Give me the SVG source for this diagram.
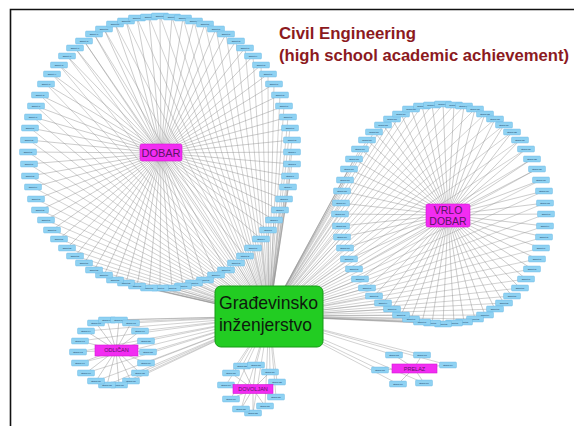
<svg xmlns="http://www.w3.org/2000/svg" width="574" height="426" viewBox="0 0 574 426">
<style>
.e{fill:none;stroke:#8e8e8e;stroke-width:.45}
.h{fill:none;stroke:#8e8e8e;stroke-width:.4}
.s text{font-family:"Liberation Sans",Arial,sans-serif;font-size:1.8px;fill:#102a50;text-anchor:middle;dominant-baseline:central}
.m rect{fill:#f22cf2;stroke:#d41ad4;stroke-width:.6}
.m text{font-family:"Liberation Sans",Arial,sans-serif;fill:#5a1464;text-anchor:middle}
.t{font-family:"Liberation Sans",Arial,sans-serif;font-weight:bold;font-size:16px;fill:#8c1a1e}
.g{font-family:"Liberation Sans",Arial,sans-serif;font-size:19px;fill:#0d1a0d}
</style>
<defs>
<rect id="b" x="-8.5" y="-3" width="17" height="6" rx="1" fill="#8fd2f2" stroke="#5fb3e3" stroke-width=".4"/>
</defs>
<rect x="0" y="0" width="574" height="426" fill="#fff"/>
<path d="M10.5 426V9.5H574" fill="none" stroke="#111" stroke-width="1.6"/>
<g id="connectors">
<path class="e" d="M161 153L292 152M161 153L292 164M161 153L290 176M161 153L288 187M161 153L284 199M161 153L280 210M161 153L274 220M161 153L268 230M161 153L261 239M161 153L253 248M161 153L245 256M161 153L236 263M161 153L226 270M161 153L216 275M161 153L205 280M161 153L194 283M161 153L183 286M161 153L172 288M161 153L160 288M161 153L149 288M161 153L137 286M161 153L126 283M161 153L115 280M161 153L104 275M161 153L94 270M161 153L84 263M161 153L75 256M161 153L67 248M161 153L59 239M161 153L52 230M161 153L46 220M161 153L40 210M161 153L36 199M161 153L33 187M161 153L30 176M161 153L29 164M161 153L28 152M161 153L29 140M161 153L30 128M161 153L33 117M161 153L36 106M161 153L40 95M161 153L46 84M161 153L52 74M161 153L59 65M161 153L67 56M161 153L75 48M161 153L84 41M161 153L94 34M161 153L104 29M161 153L115 24M161 153L126 21M161 153L137 18M161 153L149 17M161 153L160 16M161 153L172 17M161 153L183 18M161 153L194 21M161 153L205 24M161 153L216 29M161 153L226 34M161 153L236 41M161 153L245 48M161 153L253 56M161 153L261 65M161 153L268 74M161 153L274 84M161 153L280 95M161 153L284 106M161 153L288 117M161 153L290 128M161 153L292 140"/>
<path class="e" d="M448 215L546 214M448 215L545 226M448 215L544 237M448 215L541 248M448 215L537 259M448 215L532 269M448 215L526 279M448 215L520 288M448 215L512 296M448 215L504 303M448 215L495 309M448 215L485 315M448 215L475 319M448 215L464 322M448 215L454 323M448 215L443 324M448 215L432 323M448 215L422 322M448 215L411 319M448 215L401 315M448 215L392 309M448 215L383 303M448 215L374 296M448 215L367 288M448 215L360 279M448 215L354 269M448 215L349 259M448 215L345 248M448 215L342 237M448 215L341 226M448 215L340 214M448 215L341 203M448 215L342 191M448 215L345 180M448 215L349 169M448 215L354 159M448 215L360 149M448 215L367 140M448 215L374 132M448 215L383 125M448 215L392 119M448 215L401 114M448 215L411 109M448 215L422 106M448 215L432 105M448 215L443 104M448 215L454 105M448 215L464 106M448 215L475 109M448 215L485 114M448 215L495 119M448 215L504 125M448 215L512 132M448 215L520 140M448 215L526 149M448 215L532 159M448 215L537 169M448 215L541 180M448 215L544 191M448 215L545 203"/>
<path class="e" d="M116 350L148 352M116 350L146 363M116 350L140 373M116 350L131 381M116 350L119 385M116 350L107 385M116 350L96 381M116 350L86 373M116 350L80 363M116 350L78 352M116 350L80 341M116 350L86 331M116 350L96 323M116 350L107 320M116 350L119 320M116 350L131 323M116 350L140 331M116 350L146 341"/>
<path class="e" d="M253 389L231 373M253 389L242 366M253 389L256 365M253 389L270 372M253 389L277 382M253 389L276 397M253 389L265 406M253 389L253 413M253 389L241 409M253 389L231 399M253 389L226 385"/>
<path class="e" d="M414 368L394 355M414 368L422 355M414 368L448 365M414 368L380 370M414 368L398 384M414 368L424 383"/>
<path class="h" d="M269 316L292 152M269 316L292 164M269 316L290 176M269 316L288 187M269 316L284 199M269 316L280 210M269 316L274 220M269 316L268 230M269 316L261 239M269 316L253 248M269 316L245 256M269 316L236 263M269 316L226 270M269 316L216 275M269 316L205 280M269 316L194 283M269 316L183 286M269 316L172 288M269 316L160 288M269 316L149 288M269 316L137 286M269 316L126 283M269 316L115 280M269 316L104 275M269 316L94 270M269 316L84 263M269 316L75 256M269 316L67 248M269 316L59 239M269 316L52 230M269 316L46 220M269 316L40 210M269 316L36 199M269 316L33 187M269 316L30 176M269 316L29 164M269 316L28 152M269 316L29 140M269 316L30 128M269 316L33 117M269 316L36 106M269 316L40 95M269 316L46 84M269 316L52 74M269 316L59 65M269 316L67 56M269 316L75 48M269 316L84 41M269 316L94 34M269 316L104 29M269 316L115 24M269 316L126 21M269 316L137 18M269 316L149 17M269 316L160 16M269 316L172 17M269 316L183 18M269 316L194 21M269 316L205 24M269 316L216 29M269 316L226 34M269 316L236 41M269 316L245 48M269 316L253 56M269 316L261 65M269 316L268 74M269 316L274 84M269 316L280 95M269 316L284 106M269 316L288 117M269 316L290 128M269 316L292 140"/>
<path class="h" d="M269 316L546 214M269 316L545 226M269 316L544 237M269 316L541 248M269 316L537 259M269 316L532 269M269 316L526 279M269 316L520 288M269 316L512 296M269 316L504 303M269 316L495 309M269 316L485 315M269 316L475 319M269 316L464 322M269 316L454 323M269 316L443 324M269 316L432 323M269 316L422 322M269 316L411 319M269 316L401 315M269 316L392 309M269 316L383 303M269 316L374 296M269 316L367 288M269 316L360 279M269 316L354 269M269 316L349 259M269 316L345 248M269 316L342 237M269 316L341 226M269 316L340 214M269 316L341 203M269 316L342 191M269 316L345 180M269 316L349 169M269 316L354 159M269 316L360 149M269 316L367 140M269 316L374 132M269 316L383 125M269 316L392 119M269 316L401 114M269 316L411 109M269 316L422 106M269 316L432 105M269 316L443 104M269 316L454 105M269 316L464 106M269 316L475 109M269 316L485 114M269 316L495 119M269 316L504 125M269 316L512 132M269 316L520 140M269 316L526 149M269 316L532 159M269 316L537 169M269 316L541 180M269 316L544 191M269 316L545 203"/>
<path class="h" d="M269 316L148 352M269 316L146 363M269 316L140 373M269 316L131 381M269 316L119 385M269 316L107 385M269 316L96 381M269 316L86 373M269 316L80 363M269 316L78 352M269 316L80 341M269 316L86 331M269 316L96 323M269 316L107 320M269 316L119 320M269 316L131 323M269 316L140 331M269 316L146 341M269 316L231 373M269 316L242 366M269 316L256 365M269 316L270 372M269 316L277 382M269 316L276 397M269 316L265 406M269 316L253 413M269 316L241 409M269 316L231 399M269 316L226 385M269 316L394 355M269 316L422 355M269 316L448 365M269 316L380 370M269 316L398 384M269 316L424 383"/>
</g>
<g class="s">
<g id="n1"><use href="#b" x="292" y="152"/><text x="292" y="152">Student 1</text></g>
<g id="n2"><use href="#b" x="292" y="164"/><text x="292" y="164">Student 2</text></g>
<g id="n3"><use href="#b" x="290" y="176"/><text x="290" y="176">Student 3</text></g>
<g id="n4"><use href="#b" x="288" y="187"/><text x="288" y="187">Student 4</text></g>
<g id="n5"><use href="#b" x="284" y="199"/><text x="284" y="199">Student 5</text></g>
<g id="n6"><use href="#b" x="280" y="210"/><text x="280" y="210">Student 6</text></g>
<g id="n7"><use href="#b" x="274" y="220"/><text x="274" y="220">Student 7</text></g>
<g id="n8"><use href="#b" x="268" y="230"/><text x="268" y="230">Student 8</text></g>
<g id="n9"><use href="#b" x="261" y="239"/><text x="261" y="239">Student 9</text></g>
<g id="n10"><use href="#b" x="253" y="248"/><text x="253" y="248">Student 10</text></g>
<g id="n11"><use href="#b" x="245" y="256"/><text x="245" y="256">Student 11</text></g>
<g id="n12"><use href="#b" x="236" y="263"/><text x="236" y="263">Student 12</text></g>
<g id="n13"><use href="#b" x="226" y="270"/><text x="226" y="270">Student 13</text></g>
<g id="n14"><use href="#b" x="216" y="275"/><text x="216" y="275">Student 14</text></g>
<g id="n15"><use href="#b" x="205" y="280"/><text x="205" y="280">Student 15</text></g>
<g id="n16"><use href="#b" x="194" y="283"/><text x="194" y="283">Student 16</text></g>
<g id="n17"><use href="#b" x="183" y="286"/><text x="183" y="286">Student 17</text></g>
<g id="n18"><use href="#b" x="172" y="288"/><text x="172" y="288">Student 18</text></g>
<g id="n19"><use href="#b" x="160" y="288"/><text x="160" y="288">Student 19</text></g>
<g id="n20"><use href="#b" x="149" y="288"/><text x="149" y="288">Student 20</text></g>
<g id="n21"><use href="#b" x="137" y="286"/><text x="137" y="286">Student 21</text></g>
<g id="n22"><use href="#b" x="126" y="283"/><text x="126" y="283">Student 22</text></g>
<g id="n23"><use href="#b" x="115" y="280"/><text x="115" y="280">Student 23</text></g>
<g id="n24"><use href="#b" x="104" y="275"/><text x="104" y="275">Student 24</text></g>
<g id="n25"><use href="#b" x="94" y="270"/><text x="94" y="270">Student 25</text></g>
<g id="n26"><use href="#b" x="84" y="263"/><text x="84" y="263">Student 26</text></g>
<g id="n27"><use href="#b" x="75" y="256"/><text x="75" y="256">Student 27</text></g>
<g id="n28"><use href="#b" x="67" y="248"/><text x="67" y="248">Student 28</text></g>
<g id="n29"><use href="#b" x="59" y="239"/><text x="59" y="239">Student 29</text></g>
<g id="n30"><use href="#b" x="52" y="230"/><text x="52" y="230">Student 30</text></g>
<g id="n31"><use href="#b" x="46" y="220"/><text x="46" y="220">Student 31</text></g>
<g id="n32"><use href="#b" x="40" y="210"/><text x="40" y="210">Student 32</text></g>
<g id="n33"><use href="#b" x="36" y="199"/><text x="36" y="199">Student 33</text></g>
<g id="n34"><use href="#b" x="33" y="187"/><text x="33" y="187">Student 34</text></g>
<g id="n35"><use href="#b" x="30" y="176"/><text x="30" y="176">Student 35</text></g>
<g id="n36"><use href="#b" x="29" y="164"/><text x="29" y="164">Student 36</text></g>
<g id="n37"><use href="#b" x="28" y="152"/><text x="28" y="152">Student 37</text></g>
<g id="n38"><use href="#b" x="29" y="140"/><text x="29" y="140">Student 38</text></g>
<g id="n39"><use href="#b" x="30" y="128"/><text x="30" y="128">Student 39</text></g>
<g id="n40"><use href="#b" x="33" y="117"/><text x="33" y="117">Student 40</text></g>
<g id="n41"><use href="#b" x="36" y="106"/><text x="36" y="106">Student 41</text></g>
<g id="n42"><use href="#b" x="40" y="95"/><text x="40" y="95">Student 42</text></g>
<g id="n43"><use href="#b" x="46" y="84"/><text x="46" y="84">Student 43</text></g>
<g id="n44"><use href="#b" x="52" y="74"/><text x="52" y="74">Student 44</text></g>
<g id="n45"><use href="#b" x="59" y="65"/><text x="59" y="65">Student 45</text></g>
<g id="n46"><use href="#b" x="67" y="56"/><text x="67" y="56">Student 46</text></g>
<g id="n47"><use href="#b" x="75" y="48"/><text x="75" y="48">Student 47</text></g>
<g id="n48"><use href="#b" x="84" y="41"/><text x="84" y="41">Student 48</text></g>
<g id="n49"><use href="#b" x="94" y="34"/><text x="94" y="34">Student 49</text></g>
<g id="n50"><use href="#b" x="104" y="29"/><text x="104" y="29">Student 50</text></g>
<g id="n51"><use href="#b" x="115" y="24"/><text x="115" y="24">Student 51</text></g>
<g id="n52"><use href="#b" x="126" y="21"/><text x="126" y="21">Student 52</text></g>
<g id="n53"><use href="#b" x="137" y="18"/><text x="137" y="18">Student 53</text></g>
<g id="n54"><use href="#b" x="149" y="17"/><text x="149" y="17">Student 54</text></g>
<g id="n55"><use href="#b" x="160" y="16"/><text x="160" y="16">Student 55</text></g>
<g id="n56"><use href="#b" x="172" y="17"/><text x="172" y="17">Student 56</text></g>
<g id="n57"><use href="#b" x="183" y="18"/><text x="183" y="18">Student 57</text></g>
<g id="n58"><use href="#b" x="194" y="21"/><text x="194" y="21">Student 58</text></g>
<g id="n59"><use href="#b" x="205" y="24"/><text x="205" y="24">Student 59</text></g>
<g id="n60"><use href="#b" x="216" y="29"/><text x="216" y="29">Student 60</text></g>
<g id="n61"><use href="#b" x="226" y="34"/><text x="226" y="34">Student 61</text></g>
<g id="n62"><use href="#b" x="236" y="41"/><text x="236" y="41">Student 62</text></g>
<g id="n63"><use href="#b" x="245" y="48"/><text x="245" y="48">Student 63</text></g>
<g id="n64"><use href="#b" x="253" y="56"/><text x="253" y="56">Student 64</text></g>
<g id="n65"><use href="#b" x="261" y="65"/><text x="261" y="65">Student 65</text></g>
<g id="n66"><use href="#b" x="268" y="74"/><text x="268" y="74">Student 66</text></g>
<g id="n67"><use href="#b" x="274" y="84"/><text x="274" y="84">Student 67</text></g>
<g id="n68"><use href="#b" x="280" y="95"/><text x="280" y="95">Student 68</text></g>
<g id="n69"><use href="#b" x="284" y="106"/><text x="284" y="106">Student 69</text></g>
<g id="n70"><use href="#b" x="288" y="117"/><text x="288" y="117">Student 70</text></g>
<g id="n71"><use href="#b" x="290" y="128"/><text x="290" y="128">Student 71</text></g>
<g id="n72"><use href="#b" x="292" y="140"/><text x="292" y="140">Student 72</text></g>
<g id="n73"><use href="#b" x="546" y="214"/><text x="546" y="214">Student 73</text></g>
<g id="n74"><use href="#b" x="545" y="226"/><text x="545" y="226">Student 74</text></g>
<g id="n75"><use href="#b" x="544" y="237"/><text x="544" y="237">Student 75</text></g>
<g id="n76"><use href="#b" x="541" y="248"/><text x="541" y="248">Student 76</text></g>
<g id="n77"><use href="#b" x="537" y="259"/><text x="537" y="259">Student 77</text></g>
<g id="n78"><use href="#b" x="532" y="269"/><text x="532" y="269">Student 78</text></g>
<g id="n79"><use href="#b" x="526" y="279"/><text x="526" y="279">Student 79</text></g>
<g id="n80"><use href="#b" x="520" y="288"/><text x="520" y="288">Student 80</text></g>
<g id="n81"><use href="#b" x="512" y="296"/><text x="512" y="296">Student 81</text></g>
<g id="n82"><use href="#b" x="504" y="303"/><text x="504" y="303">Student 82</text></g>
<g id="n83"><use href="#b" x="495" y="309"/><text x="495" y="309">Student 83</text></g>
<g id="n84"><use href="#b" x="485" y="315"/><text x="485" y="315">Student 84</text></g>
<g id="n85"><use href="#b" x="475" y="319"/><text x="475" y="319">Student 85</text></g>
<g id="n86"><use href="#b" x="464" y="322"/><text x="464" y="322">Student 86</text></g>
<g id="n87"><use href="#b" x="454" y="323"/><text x="454" y="323">Student 87</text></g>
<g id="n88"><use href="#b" x="443" y="324"/><text x="443" y="324">Student 88</text></g>
<g id="n89"><use href="#b" x="432" y="323"/><text x="432" y="323">Student 89</text></g>
<g id="n90"><use href="#b" x="422" y="322"/><text x="422" y="322">Student 90</text></g>
<g id="n91"><use href="#b" x="411" y="319"/><text x="411" y="319">Student 91</text></g>
<g id="n92"><use href="#b" x="401" y="315"/><text x="401" y="315">Student 92</text></g>
<g id="n93"><use href="#b" x="392" y="309"/><text x="392" y="309">Student 93</text></g>
<g id="n94"><use href="#b" x="383" y="303"/><text x="383" y="303">Student 94</text></g>
<g id="n95"><use href="#b" x="374" y="296"/><text x="374" y="296">Student 95</text></g>
<g id="n96"><use href="#b" x="367" y="288"/><text x="367" y="288">Student 96</text></g>
<g id="n97"><use href="#b" x="360" y="279"/><text x="360" y="279">Student 97</text></g>
<g id="n98"><use href="#b" x="354" y="269"/><text x="354" y="269">Student 98</text></g>
<g id="n99"><use href="#b" x="349" y="259"/><text x="349" y="259">Student 99</text></g>
<g id="n100"><use href="#b" x="345" y="248"/><text x="345" y="248">Student 100</text></g>
<g id="n101"><use href="#b" x="342" y="237"/><text x="342" y="237">Student 101</text></g>
<g id="n102"><use href="#b" x="341" y="226"/><text x="341" y="226">Student 102</text></g>
<g id="n103"><use href="#b" x="340" y="214"/><text x="340" y="214">Student 103</text></g>
<g id="n104"><use href="#b" x="341" y="203"/><text x="341" y="203">Student 104</text></g>
<g id="n105"><use href="#b" x="342" y="191"/><text x="342" y="191">Student 105</text></g>
<g id="n106"><use href="#b" x="345" y="180"/><text x="345" y="180">Student 106</text></g>
<g id="n107"><use href="#b" x="349" y="169"/><text x="349" y="169">Student 107</text></g>
<g id="n108"><use href="#b" x="354" y="159"/><text x="354" y="159">Student 108</text></g>
<g id="n109"><use href="#b" x="360" y="149"/><text x="360" y="149">Student 109</text></g>
<g id="n110"><use href="#b" x="367" y="140"/><text x="367" y="140">Student 110</text></g>
<g id="n111"><use href="#b" x="374" y="132"/><text x="374" y="132">Student 111</text></g>
<g id="n112"><use href="#b" x="383" y="125"/><text x="383" y="125">Student 112</text></g>
<g id="n113"><use href="#b" x="392" y="119"/><text x="392" y="119">Student 113</text></g>
<g id="n114"><use href="#b" x="401" y="114"/><text x="401" y="114">Student 114</text></g>
<g id="n115"><use href="#b" x="411" y="109"/><text x="411" y="109">Student 115</text></g>
<g id="n116"><use href="#b" x="422" y="106"/><text x="422" y="106">Student 116</text></g>
<g id="n117"><use href="#b" x="432" y="105"/><text x="432" y="105">Student 117</text></g>
<g id="n118"><use href="#b" x="443" y="104"/><text x="443" y="104">Student 118</text></g>
<g id="n119"><use href="#b" x="454" y="105"/><text x="454" y="105">Student 119</text></g>
<g id="n120"><use href="#b" x="464" y="106"/><text x="464" y="106">Student 120</text></g>
<g id="n121"><use href="#b" x="475" y="109"/><text x="475" y="109">Student 121</text></g>
<g id="n122"><use href="#b" x="485" y="114"/><text x="485" y="114">Student 122</text></g>
<g id="n123"><use href="#b" x="495" y="119"/><text x="495" y="119">Student 123</text></g>
<g id="n124"><use href="#b" x="504" y="125"/><text x="504" y="125">Student 124</text></g>
<g id="n125"><use href="#b" x="512" y="132"/><text x="512" y="132">Student 125</text></g>
<g id="n126"><use href="#b" x="520" y="140"/><text x="520" y="140">Student 126</text></g>
<g id="n127"><use href="#b" x="526" y="149"/><text x="526" y="149">Student 127</text></g>
<g id="n128"><use href="#b" x="532" y="159"/><text x="532" y="159">Student 128</text></g>
<g id="n129"><use href="#b" x="537" y="169"/><text x="537" y="169">Student 129</text></g>
<g id="n130"><use href="#b" x="541" y="180"/><text x="541" y="180">Student 130</text></g>
<g id="n131"><use href="#b" x="544" y="191"/><text x="544" y="191">Student 131</text></g>
<g id="n132"><use href="#b" x="545" y="203"/><text x="545" y="203">Student 132</text></g>
<g id="n133"><use href="#b" x="148" y="352"/><text x="148" y="352">Student 133</text></g>
<g id="n134"><use href="#b" x="146" y="363"/><text x="146" y="363">Student 134</text></g>
<g id="n135"><use href="#b" x="140" y="373"/><text x="140" y="373">Student 135</text></g>
<g id="n136"><use href="#b" x="131" y="381"/><text x="131" y="381">Student 136</text></g>
<g id="n137"><use href="#b" x="119" y="385"/><text x="119" y="385">Student 137</text></g>
<g id="n138"><use href="#b" x="107" y="385"/><text x="107" y="385">Student 138</text></g>
<g id="n139"><use href="#b" x="96" y="381"/><text x="96" y="381">Student 139</text></g>
<g id="n140"><use href="#b" x="86" y="373"/><text x="86" y="373">Student 140</text></g>
<g id="n141"><use href="#b" x="80" y="363"/><text x="80" y="363">Student 141</text></g>
<g id="n142"><use href="#b" x="78" y="352"/><text x="78" y="352">Student 142</text></g>
<g id="n143"><use href="#b" x="80" y="341"/><text x="80" y="341">Student 143</text></g>
<g id="n144"><use href="#b" x="86" y="331"/><text x="86" y="331">Student 144</text></g>
<g id="n145"><use href="#b" x="96" y="323"/><text x="96" y="323">Student 145</text></g>
<g id="n146"><use href="#b" x="107" y="320"/><text x="107" y="320">Student 146</text></g>
<g id="n147"><use href="#b" x="119" y="320"/><text x="119" y="320">Student 147</text></g>
<g id="n148"><use href="#b" x="131" y="323"/><text x="131" y="323">Student 148</text></g>
<g id="n149"><use href="#b" x="140" y="331"/><text x="140" y="331">Student 149</text></g>
<g id="n150"><use href="#b" x="146" y="341"/><text x="146" y="341">Student 150</text></g>
<g id="n151"><use href="#b" x="231" y="373"/><text x="231" y="373">Student 151</text></g>
<g id="n152"><use href="#b" x="242" y="366"/><text x="242" y="366">Student 152</text></g>
<g id="n153"><use href="#b" x="256" y="365"/><text x="256" y="365">Student 153</text></g>
<g id="n154"><use href="#b" x="270" y="372"/><text x="270" y="372">Student 154</text></g>
<g id="n155"><use href="#b" x="277" y="382"/><text x="277" y="382">Student 155</text></g>
<g id="n156"><use href="#b" x="276" y="397"/><text x="276" y="397">Student 156</text></g>
<g id="n157"><use href="#b" x="265" y="406"/><text x="265" y="406">Student 157</text></g>
<g id="n158"><use href="#b" x="253" y="413"/><text x="253" y="413">Student 158</text></g>
<g id="n159"><use href="#b" x="241" y="409"/><text x="241" y="409">Student 159</text></g>
<g id="n160"><use href="#b" x="231" y="399"/><text x="231" y="399">Student 160</text></g>
<g id="n161"><use href="#b" x="226" y="385"/><text x="226" y="385">Student 161</text></g>
<g id="n162"><use href="#b" x="394" y="355"/><text x="394" y="355">Student 162</text></g>
<g id="n163"><use href="#b" x="422" y="355"/><text x="422" y="355">Student 163</text></g>
<g id="n164"><use href="#b" x="448" y="365"/><text x="448" y="365">Student 164</text></g>
<g id="n165"><use href="#b" x="380" y="370"/><text x="380" y="370">Student 165</text></g>
<g id="n166"><use href="#b" x="398" y="384"/><text x="398" y="384">Student 166</text></g>
<g id="n167"><use href="#b" x="424" y="383"/><text x="424" y="383">Student 167</text></g>
</g>
<g class="m">
<g id="dobar"><rect x="140" y="144" width="42" height="17" rx="2"/><text x="161" y="156.8" font-size="11">DOBAR</text></g>
<g id="vrlo-dobar"><rect x="426" y="204" width="44" height="23" rx="2"/><text x="448" y="214" font-size="10.5">VRLO</text><text x="448" y="225" font-size="10.5">DOBAR</text></g>
<g id="odlican"><rect x="95" y="345" width="43" height="11"/><text x="116.5" y="352.3" font-size="5.5">ODLIČAN</text></g>
<g id="dovoljan"><rect x="233" y="384.5" width="40" height="9"/><text x="253" y="391" font-size="5.5">DOVOLJAN</text></g>
<g id="prelaz"><rect x="392" y="364" width="45" height="9"/><text x="414.5" y="370.5" font-size="5.5">PRELAZ</text></g>
</g>
<g id="hub">
<rect x="215" y="286" width="108" height="61" rx="6" fill="#22cc22" stroke="#179a17" stroke-width="1"/>
<text class="g" x="219" y="309" textLength="99" lengthAdjust="spacingAndGlyphs">Građevinsko</text>
<text class="g" x="219" y="331" textLength="93" lengthAdjust="spacingAndGlyphs">inženjerstvo</text>
</g>
<g id="title">
<text class="t" x="279" y="39" textLength="137" lengthAdjust="spacingAndGlyphs">Civil Engineering</text>
<text class="t" x="279" y="61" textLength="290" lengthAdjust="spacingAndGlyphs">(high school academic achievement)</text>
</g>
</svg>
